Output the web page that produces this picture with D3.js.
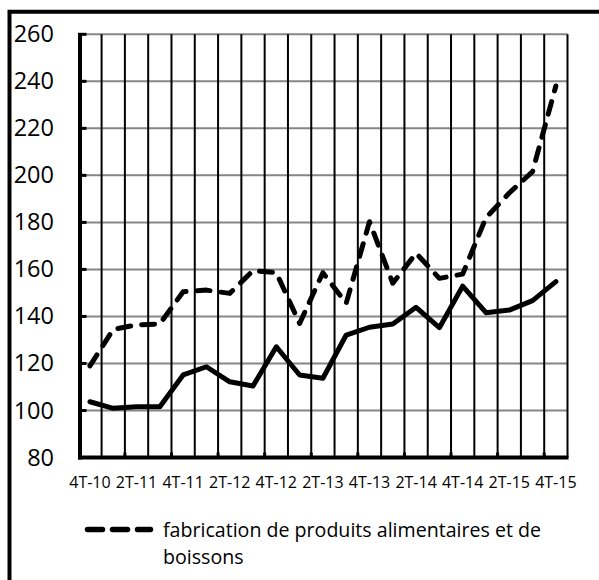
<!DOCTYPE html>
<html>
<head>
<meta charset="utf-8">
<script src="https://cdn.jsdelivr.net/npm/d3@7"></script>
<style>
  html, body { margin: 0; padding: 0; background: #fff; }
  svg { display: block; }
</style>
</head>
<body>
<svg id="chart" width="599" height="580"></svg>
<script>
// ---- data ----
const quarters = ["4T-10","1T-11","2T-11","3T-11","4T-11","1T-12","2T-12","3T-12","4T-12",
                  "1T-13","2T-13","3T-13","4T-13","1T-14","2T-14","3T-14","4T-14",
                  "1T-15","2T-15","3T-15","4T-15"];
const tickLabels = ["4T-10","2T-11","4T-11","2T-12","4T-12","2T-13","4T-13","2T-14","4T-14","2T-15","4T-15"];
const yTicks = [80,100,120,140,160,180,200,220,240,260];
// solid series (legend entry not visible in the reference)
const industrieManufacturiere = [103.7,100.9,101.6,101.6,115.1,118.6,112.2,110.4,127.1,115.1,113.7,
                                 132.1,135.4,136.8,143.9,135.2,152.9,141.6,142.7,146.7,154.8];
// dashed series
const alimentairesBoissons = [119.0,134.5,136.4,136.8,150.5,151.2,149.8,159.5,158.6,137.0,158.6,
                              145.6,180.3,154.1,166.9,156.2,158.0,182.0,192.5,201.6,238.0];
const legendLines = ["fabrication de produits alimentaires et de", "boissons"];

// ---- layout ----
const svg = d3.select("#chart");
const FONT = "'Open Sans', 'DejaVu Sans', sans-serif";
const x = d3.scaleBand().domain(quarters).range([78.3, 567.5]).paddingInner(0).paddingOuter(0);
const y = d3.scaleLinear().domain([80, 260]).range([457.5, 34.3]);
const cx = q => x(q) + x.bandwidth() / 2;

svg.append("rect").attr("width", 599).attr("height", 580).attr("fill", "#fff");

// outer frame (only left and top edges fall inside the picture)
svg.append("path").attr("d", "M9.5,585 V11.7 H605")
  .attr("fill", "none").attr("stroke", "#000").attr("stroke-width", 4);

// horizontal gridlines
svg.append("g").selectAll("line").data(yTicks.filter(v => v !== 80)).join("line")
  .attr("x1", 80).attr("x2", x.range()[1])
  .attr("y1", d => y(d)).attr("y2", d => y(d))
  .attr("stroke", "#868686").attr("stroke-width", 2);

// vertical gridlines at category boundaries
const bounds = quarters.slice(1).map(q => x(q)).concat([x.range()[1]]);
svg.append("g").selectAll("line").data(bounds).join("line")
  .attr("x1", d => d).attr("x2", d => d)
  .attr("y1", y(260)).attr("y2", y(80))
  .attr("stroke", "#000").attr("stroke-width", 2);

// y axis labels
const yAxis = svg.append("g").attr("transform", "translate(80,0)")
  .call(d3.axisLeft(y).tickValues(yTicks).tickSize(0).tickPadding(26));
yAxis.select(".domain").remove();
yAxis.selectAll("text").attr("font-family", FONT).attr("font-size", 23.5).attr("fill", "#000");

// y axis line + ticks
svg.append("line").attr("x1", 80).attr("x2", 80)
  .attr("y1", y(260) - 1).attr("y2", y(80) + 2)
  .attr("stroke", "#000").attr("stroke-width", 4);
svg.append("g").selectAll("line").data(yTicks).join("line")
  .attr("x1", 78).attr("x2", 86.5)
  .attr("y1", d => y(d)).attr("y2", d => y(d))
  .attr("stroke", "#000").attr("stroke-width", 3);

// x axis labels
const xAxis = svg.append("g").attr("transform", `translate(0,${y(80)})`)
  .call(d3.axisBottom(x).tickValues(tickLabels).tickSize(0).tickPadding(19));
xAxis.select(".domain").remove();
xAxis.selectAll("text").attr("font-family", FONT).attr("font-size", 16).attr("fill", "#000");

// x axis line + small inside ticks every other boundary
svg.append("line").attr("x1", 78).attr("x2", x.range()[1] + 1)
  .attr("y1", y(80)).attr("y2", y(80))
  .attr("stroke", "#000").attr("stroke-width", 4);
const majorBounds = quarters.map((q, i) => i).filter(i => i % 2 === 0 && i > 0).map(i => x(quarters[i]));
svg.append("g").selectAll("line").data(majorBounds).join("line")
  .attr("x1", d => d).attr("x2", d => d)
  .attr("y1", y(80) - 5).attr("y2", y(80))
  .attr("stroke", "#000").attr("stroke-width", 3);

// series
const line = d3.line().x((d, i) => cx(quarters[i])).y(d => y(d));
svg.append("path").datum(industrieManufacturiere).attr("d", line)
  .attr("fill", "none").attr("stroke", "#000").attr("stroke-width", 5)
  .attr("stroke-linejoin", "round").attr("stroke-linecap", "round");
svg.append("path").datum(alimentairesBoissons).attr("d", line)
  .attr("fill", "none").attr("stroke", "#000").attr("stroke-width", 5)
  .attr("stroke-dasharray", "13,11")
  .attr("stroke-linejoin", "round").attr("stroke-linecap", "round");

// legend
svg.append("line").attr("x1", 87.5).attr("x2", 150.5).attr("y1", 529.5).attr("y2", 529.5)
  .attr("stroke", "#000").attr("stroke-width", 5.5)
  .attr("stroke-dasharray", "15,10").attr("stroke-linecap", "round");
svg.append("g").selectAll("text").data(legendLines).join("text")
  .attr("x", 163).attr("y", (d, i) => 537 + i * 27)
  .attr("font-family", FONT).attr("font-size", 19.6).attr("fill", "#000")
  .text(d => d);
</script>
</body>
</html>
